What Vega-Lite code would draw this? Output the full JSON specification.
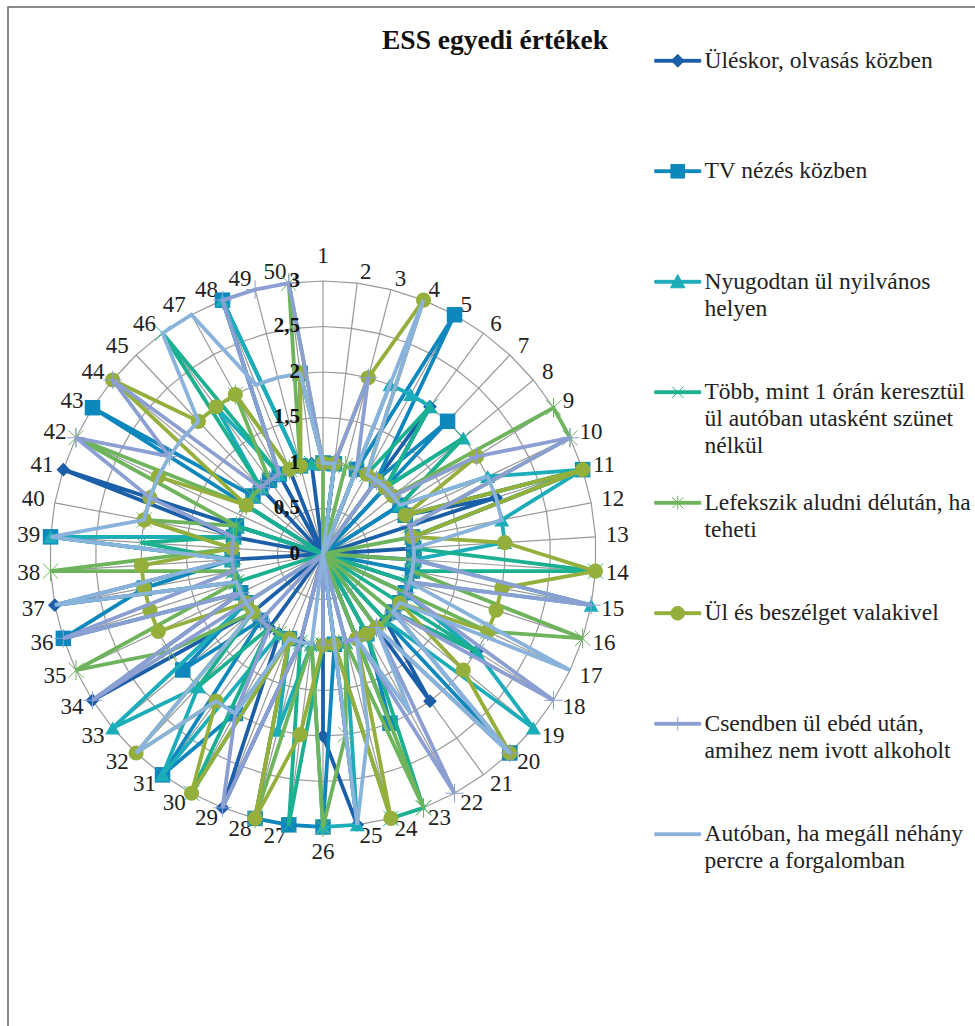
{
"$schema":"https://vega.github.io/schema/vega-lite/v6.json",
"width":968,"height":1020,
"autosize":{"type":"none"},
"padding":{"left":8,"top":7,"right":0,"bottom":0},
"background":"white",
"view":{"stroke":"#666666","strokeWidth":1.5,"fill":"white"},
"title":{"text":"ESS egyedi értékek","anchor":"start","offset":-47,"dx":374,"font":"Liberation Serif","fontSize":27.5,"fontWeight":"bold","color":"#111111"},
"datasets":{"ertekek":[
{"kerdes":1,"olvasas":1,"tv":1,"nyilvanos":1,"auto":1,"delutan":1,"beszelget":1,"ebed":1,"forgalom":1},
{"kerdes":2,"olvasas":1,"tv":1,"nyilvanos":1,"auto":1,"delutan":0,"beszelget":1,"ebed":1,"forgalom":1},
{"kerdes":3,"olvasas":0,"tv":0,"nyilvanos":0,"auto":0,"delutan":1,"beszelget":2,"ebed":2,"forgalom":0},
{"kerdes":4,"olvasas":1,"tv":1,"nyilvanos":2,"auto":1,"delutan":1,"beszelget":3,"ebed":1,"forgalom":3},
{"kerdes":5,"olvasas":0,"tv":3,"nyilvanos":2,"auto":1,"delutan":0,"beszelget":1,"ebed":0,"forgalom":1},
{"kerdes":6,"olvasas":2,"tv":1,"nyilvanos":2,"auto":2,"delutan":1,"beszelget":1,"ebed":1,"forgalom":1},
{"kerdes":7,"olvasas":1,"tv":2,"nyilvanos":1,"auto":1,"delutan":1,"beszelget":1,"ebed":1,"forgalom":1},
{"kerdes":8,"olvasas":0,"tv":0,"nyilvanos":2,"auto":2,"delutan":1,"beszelget":1,"ebed":1,"forgalom":1},
{"kerdes":9,"olvasas":1,"tv":1,"nyilvanos":1,"auto":1,"delutan":3,"beszelget":2,"ebed":2,"forgalom":1},
{"kerdes":10,"olvasas":1,"tv":1,"nyilvanos":2,"auto":1,"delutan":3,"beszelget":1,"ebed":3,"forgalom":2},
{"kerdes":11,"olvasas":2,"tv":3,"nyilvanos":3,"auto":3,"delutan":1,"beszelget":3,"ebed":1,"forgalom":2},
{"kerdes":12,"olvasas":0,"tv":1,"nyilvanos":2,"auto":1,"delutan":1,"beszelget":1,"ebed":1,"forgalom":2},
{"kerdes":13,"olvasas":1,"tv":1,"nyilvanos":2,"auto":1,"delutan":0,"beszelget":2,"ebed":1,"forgalom":1},
{"kerdes":14,"olvasas":1,"tv":1,"nyilvanos":1,"auto":3,"delutan":1,"beszelget":3,"ebed":1,"forgalom":1},
{"kerdes":15,"olvasas":0,"tv":1,"nyilvanos":3,"auto":1,"delutan":1,"beszelget":2,"ebed":3,"forgalom":1},
{"kerdes":16,"olvasas":1,"tv":0,"nyilvanos":1,"auto":1,"delutan":3,"beszelget":2,"ebed":1,"forgalom":1},
{"kerdes":17,"olvasas":1,"tv":1,"nyilvanos":1,"auto":0,"delutan":2,"beszelget":2,"ebed":1,"forgalom":3},
{"kerdes":18,"olvasas":2,"tv":1,"nyilvanos":2,"auto":2,"delutan":0,"beszelget":1,"ebed":3,"forgalom":1},
{"kerdes":19,"olvasas":1,"tv":1,"nyilvanos":3,"auto":1,"delutan":1,"beszelget":2,"ebed":1,"forgalom":1},
{"kerdes":20,"olvasas":1,"tv":3,"nyilvanos":1,"auto":1,"delutan":1,"beszelget":3,"ebed":3,"forgalom":3},
{"kerdes":21,"olvasas":2,"tv":0,"nyilvanos":1,"auto":0,"delutan":1,"beszelget":1,"ebed":1,"forgalom":1},
{"kerdes":22,"olvasas":0,"tv":1,"nyilvanos":1,"auto":1,"delutan":0,"beszelget":1,"ebed":3,"forgalom":2},
{"kerdes":23,"olvasas":1,"tv":2,"nyilvanos":0,"auto":3,"delutan":3,"beszelget":1,"ebed":1,"forgalom":1},
{"kerdes":24,"olvasas":0,"tv":0,"nyilvanos":1,"auto":3,"delutan":1,"beszelget":3,"ebed":1,"forgalom":2},
{"kerdes":25,"olvasas":3,"tv":1,"nyilvanos":3,"auto":1,"delutan":2,"beszelget":1,"ebed":0,"forgalom":3},
{"kerdes":26,"olvasas":2,"tv":3,"nyilvanos":3,"auto":1,"delutan":3,"beszelget":1,"ebed":1,"forgalom":0},
{"kerdes":27,"olvasas":0,"tv":3,"nyilvanos":1,"auto":3,"delutan":1,"beszelget":2,"ebed":0,"forgalom":1},
{"kerdes":28,"olvasas":1,"tv":3,"nyilvanos":2,"auto":1,"delutan":3,"beszelget":3,"ebed":1,"forgalom":1},
{"kerdes":29,"olvasas":3,"tv":1,"nyilvanos":1,"auto":1,"delutan":1,"beszelget":1,"ebed":3,"forgalom":1},
{"kerdes":30,"olvasas":1,"tv":2,"nyilvanos":1,"auto":3,"delutan":1,"beszelget":3,"ebed":2,"forgalom":2},
{"kerdes":31,"olvasas":1,"tv":3,"nyilvanos":3,"auto":1,"delutan":1,"beszelget":2,"ebed":1,"forgalom":2},
{"kerdes":32,"olvasas":0,"tv":1,"nyilvanos":2,"auto":2,"delutan":1,"beszelget":3,"ebed":1,"forgalom":3},
{"kerdes":33,"olvasas":1,"tv":2,"nyilvanos":3,"auto":1,"delutan":1,"beszelget":1,"ebed":0,"forgalom":1},
{"kerdes":34,"olvasas":3,"tv":1,"nyilvanos":1,"auto":1,"delutan":2,"beszelget":1,"ebed":3,"forgalom":1},
{"kerdes":35,"olvasas":1,"tv":1,"nyilvanos":1,"auto":0,"delutan":3,"beszelget":2,"ebed":1,"forgalom":1},
{"kerdes":36,"olvasas":1,"tv":3,"nyilvanos":1,"auto":1,"delutan":1,"beszelget":2,"ebed":3,"forgalom":1},
{"kerdes":37,"olvasas":3,"tv":2,"nyilvanos":1,"auto":1,"delutan":1,"beszelget":2,"ebed":1,"forgalom":3},
{"kerdes":38,"olvasas":1,"tv":1,"nyilvanos":1,"auto":1,"delutan":3,"beszelget":2,"ebed":1,"forgalom":1},
{"kerdes":39,"olvasas":0,"tv":3,"nyilvanos":3,"auto":2,"delutan":1,"beszelget":1,"ebed":1,"forgalom":3},
{"kerdes":40,"olvasas":1,"tv":1,"nyilvanos":1,"auto":1,"delutan":2,"beszelget":2,"ebed":1,"forgalom":2},
{"kerdes":41,"olvasas":3,"tv":1,"nyilvanos":1,"auto":1,"delutan":1,"beszelget":2,"ebed":2,"forgalom":2},
{"kerdes":42,"olvasas":0,"tv":0,"nyilvanos":0,"auto":0,"delutan":3,"beszelget":2,"ebed":3,"forgalom":2},
{"kerdes":43,"olvasas":1,"tv":3,"nyilvanos":1,"auto":1,"delutan":1,"beszelget":1,"ebed":2,"forgalom":2},
{"kerdes":44,"olvasas":0,"tv":1,"nyilvanos":1,"auto":1,"delutan":1,"beszelget":3,"ebed":3,"forgalom":2},
{"kerdes":45,"olvasas":1,"tv":1,"nyilvanos":1,"auto":1,"delutan":1,"beszelget":2,"ebed":1,"forgalom":2},
{"kerdes":46,"olvasas":0,"tv":1,"nyilvanos":2,"auto":3,"delutan":1,"beszelget":2,"ebed":1,"forgalom":3},
{"kerdes":47,"olvasas":1,"tv":1,"nyilvanos":1,"auto":1,"delutan":2,"beszelget":2,"ebed":1,"forgalom":3},
{"kerdes":48,"olvasas":1,"tv":3,"nyilvanos":3,"auto":1,"delutan":1,"beszelget":1,"ebed":3,"forgalom":2},
{"kerdes":49,"olvasas":0,"tv":1,"nyilvanos":1,"auto":1,"delutan":1,"beszelget":1,"ebed":3,"forgalom":2},
{"kerdes":50,"olvasas":1,"tv":2,"nyilvanos":1,"auto":1,"delutan":3,"beszelget":2,"ebed":3,"forgalom":2}
],
"tengely":[{"v":3,"t":"3"},{"v":2.5,"t":"2,5"},{"v":2,"t":"2"},{"v":1.5,"t":"1,5"},{"v":1,"t":"1"},{"v":0.5,"t":"0,5"},{"v":0,"t":"0"}]
},
"data":{"name":"ertekek"},
"transform":[
{"fold":["olvasas","tv","nyilvanos","auto","delutan","beszelget","ebed","forgalom"],"as":["sorozat","ertek"]},
{"calculate":"datum.ertek*sin((datum.kerdes-1)*2*PI/50)","as":"px"},
{"calculate":"datum.ertek*cos((datum.kerdes-1)*2*PI/50)","as":"py"}
],
"encoding":{
"x":{"field":"px","type":"quantitative","axis":null,"scale":{"domain":[-3.4615,7.1758],"nice":false,"zero":false}},
"y":{"field":"py","type":"quantitative","axis":null,"scale":{"domain":[-5.198,6.011],"nice":false,"zero":false}},
"order":{"field":"kerdes"}
},
"layer":[
{"data":{"name":"ertekek"},
 "transform":[{"calculate":"[0.5,1,1.5,2,2.5,3]","as":"gyuru"},{"flatten":["gyuru"]},
 {"calculate":"datum.gyuru*sin((datum.kerdes-1)*2*PI/50)","as":"px"},{"calculate":"datum.gyuru*cos((datum.kerdes-1)*2*PI/50)","as":"py"}],
 "mark":{"type":"line","interpolate":"linear-closed","color":"#999999","strokeWidth":1.2},
 "encoding":{"detail":{"field":"gyuru"}}},
{"data":{"name":"ertekek"},
 "transform":[{"calculate":"3*sin((datum.kerdes-1)*2*PI/50)","as":"px"},{"calculate":"3*cos((datum.kerdes-1)*2*PI/50)","as":"py"},{"calculate":"0","as":"nulla"}],
 "mark":{"type":"rule","color":"#999999","strokeWidth":1.2},
 "encoding":{"x2":{"field":"nulla"},"y2":{"field":"nulla"}}},
{"data":{"name":"ertekek"},
 "transform":[
 {"calculate":"sin((datum.kerdes-1)*2*PI/50)","as":"s"},
 {"calculate":"cos((datum.kerdes-1)*2*PI/50)","as":"c"},
 {"calculate":"3*datum.s+(abs(datum.s)<0.01?0:(datum.s>=0?1:-1)*(0.14+0.1*abs(datum.s)-(datum.kerdes<10?0.06:0)))","as":"px"},
 {"calculate":"3*datum.c+(datum.c>=0?1:-1)*(abs(datum.s)<0.01?0.28:0.12*pow(abs(datum.c),0.7))","as":"py"}],
 "mark":{"type":"text","font":"Liberation Serif","fontSize":23,"color":"#222222","align":"center","baseline":"middle"},
 "encoding":{"text":{"field":"kerdes","type":"quantitative"},"order":{"value":0}}},

{"transform":[{"filter":"datum.sorozat=='olvasas'"}],"mark":{"type":"line","interpolate":"linear-closed","color":"#1B5FA8","strokeWidth":3.8}},
{"transform":[{"filter":"datum.sorozat=='olvasas' && datum.ertek>0"}],"mark":{"type":"point","shape":"diamond","filled":true,"opacity":1,"color":"#1B5FA8","size":190}},
{"transform":[{"filter":"datum.sorozat=='tv'"}],"mark":{"type":"line","interpolate":"linear-closed","color":"#0E87BC","strokeWidth":3.8}},
{"transform":[{"filter":"datum.sorozat=='tv' && datum.ertek>0"}],"mark":{"type":"point","shape":"square","filled":true,"opacity":1,"color":"#0E87BC","size":240}},
{"transform":[{"filter":"datum.sorozat=='nyilvanos'"}],"mark":{"type":"line","interpolate":"linear-closed","color":"#1BADBA","strokeWidth":3.8}},
{"transform":[{"filter":"datum.sorozat=='nyilvanos' && datum.ertek>0"}],"mark":{"type":"point","shape":"triangle-up","filled":true,"opacity":1,"color":"#1BADBA","size":225}},
{"transform":[{"filter":"datum.sorozat=='auto'"}],"mark":{"type":"line","interpolate":"linear-closed","color":"#1BB08F","strokeWidth":3.8}},
{"transform":[{"filter":"datum.sorozat=='auto' && datum.ertek>0"}],"mark":{"type":"point","shape":"M-1,-1L1,1M-1,1L1,-1","opacity":1,"color":"#1BB08F","size":230,"strokeWidth":1}},
{"transform":[{"filter":"datum.sorozat=='delutan'"}],"mark":{"type":"line","interpolate":"linear-closed","color":"#6DB45C","strokeWidth":3.8}},
{"transform":[{"filter":"datum.sorozat=='delutan' && datum.ertek>0"}],"mark":{"type":"point","shape":"M-1,-1L1,1M-1,1L1,-1M0,-1.3L0,1.3","opacity":1,"color":"#6DB45C","size":230,"strokeWidth":1}},
{"transform":[{"filter":"datum.sorozat=='beszelget'"}],"mark":{"type":"line","interpolate":"linear-closed","color":"#94AF3C","strokeWidth":3.8}},
{"transform":[{"filter":"datum.sorozat=='beszelget' && datum.ertek>0"}],"mark":{"type":"point","shape":"circle","filled":true,"opacity":1,"color":"#94AF3C","size":230}},
{"transform":[{"filter":"datum.sorozat=='ebed'"}],"mark":{"type":"line","interpolate":"linear-closed","color":"#8C9FD2","strokeWidth":3.8}},
{"transform":[{"filter":"datum.sorozat=='ebed' && datum.ertek>0"}],"mark":{"type":"point","shape":"M0,-1.3L0,1.3M-1.3,0L1.3,0","opacity":1,"color":"#8C9FD2","size":200,"strokeWidth":1}},
{"transform":[{"filter":"datum.sorozat=='forgalom'"}],"mark":{"type":"line","interpolate":"linear-closed","color":"#8AB3DC","strokeWidth":3.8}},

{"data":{"name":"tengely"},"transform":[{"calculate":"0","as":"px"},{"calculate":"datum.v","as":"py"}],
 "mark":{"type":"text","font":"Liberation Serif","fontSize":21,"fontWeight":"bold","color":"#111111","align":"right","baseline":"middle","dx":-23},
 "encoding":{"text":{"field":"t","type":"nominal"},"order":{"value":1}}},

{"data":{"values":[]},
 "mark":{"type":"point","filled":true,"strokeWidth":1,"opacity":1},
 "encoding":{
 "x":{"value":0},"y":{"value":0},"order":{"value":0},
 "fill":{"field":"nev","type":"nominal","scale":{"domain":["Üléskor, olvasás közben","TV nézés közben","Nyugodtan ül nyilvános\nhelyen","Több, mint 1 órán keresztül\nül autóban utasként szünet\nnélkül","Lefekszik aludni délután, ha\nteheti","Ül és beszélget valakivel","Csendben ül ebéd után,\namihez nem ivott alkoholt","Autóban, ha megáll néhány\npercre a forgalomban"],"range":["#1B5FA8","#0E87BC","#1BADBA","#1BB08F","#6DB45C","#94AF3C","#8C9FD2","#8AB3DC"]},"legend":null},
 "stroke":{"field":"nev","type":"nominal","scale":{"domain":["Üléskor, olvasás közben","TV nézés közben","Nyugodtan ül nyilvános\nhelyen","Több, mint 1 órán keresztül\nül autóban utasként szünet\nnélkül","Lefekszik aludni délután, ha\nteheti","Ül és beszélget valakivel","Csendben ül ebéd után,\namihez nem ivott alkoholt","Autóban, ha megáll néhány\npercre a forgalomban"],"range":["#1B5FA8","#0E87BC","#1BADBA","#1BB08F","#6DB45C","#94AF3C","#8C9FD2","#8AB3DC"]},"legend":null},
 "shape":{"field":"nev","type":"nominal","scale":{"domain":["Üléskor, olvasás közben","TV nézés közben","Nyugodtan ül nyilvános\nhelyen","Több, mint 1 órán keresztül\nül autóban utasként szünet\nnélkül","Lefekszik aludni délután, ha\nteheti","Ül és beszélget valakivel","Csendben ül ebéd után,\namihez nem ivott alkoholt","Autóban, ha megáll néhány\npercre a forgalomban"],
 "range":[
 "M-5.75,-0.35L5.75,-0.35L5.75,0.35L-5.75,0.35ZM-1.6,0L0,-1.6L1.6,0L0,1.6Z",
 "M-5.75,-0.35L5.75,-0.35L5.75,0.35L-5.75,0.35ZM-1.7,-1.7L1.7,-1.7L1.7,1.7L-1.7,1.7Z",
 "M-5.75,-0.35L5.75,-0.35L5.75,0.35L-5.75,0.35ZM0,-1.8L1.8,1.5L-1.8,1.5Z",
 "M-5.75,-0.35L5.75,-0.35L5.75,0.35L-5.75,0.35ZM-1.4,-1.4L1.4,1.4M-1.4,1.4L1.4,-1.4",
 "M-5.75,-0.35L5.75,-0.35L5.75,0.35L-5.75,0.35ZM-1.4,-1.4L1.4,1.4M-1.4,1.4L1.4,-1.4M0,-1.7L0,1.7",
 "M-5.75,-0.35L5.75,-0.35L5.75,0.35L-5.75,0.35ZM-1.7,0A1.7,1.7 0 1 1 1.7,0A1.7,1.7 0 1 1 -1.7,0Z",
 "M-5.75,-0.35L5.75,-0.35L5.75,0.35L-5.75,0.35ZM0,-1.7L0,1.7",
 "M-5.75,-0.35L5.75,-0.35L5.75,0.35L-5.75,0.35Z"
 ]},
 "legend":{"title":null,"orient":"none","legendX":658,"legendY":42,"symbolSize":64,"symbolStrokeWidth":1,
 "labelFont":"Liberation Serif","labelFontSize":23.5,"labelColor":"#222222","labelLimit":0,"labelOffset":15,"labelBaseline":"top","rowPadding":31.5,
 "encoding":{"labels":{"dy":{"value":-12},"lineHeight":{"value":27}}},
 "labelExpr":"slice(split(datum.label+'\\n\\n\\n','\\n'),0,3)"}}
 }}
]
}
